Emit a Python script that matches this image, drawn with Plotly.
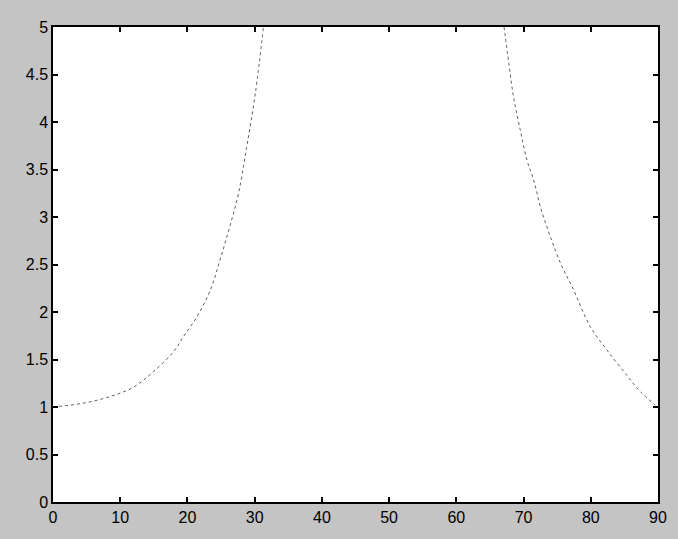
import plotly.graph_objects as go

# Left branch
x_left = [0, 4.5, 8.5, 12.0, 14.9, 17.9, 19.4, 21.4, 23.4, 24.85, 26.3, 27.6, 28.8, 30.1, 31.3]
y_left = [1.0, 1.04, 1.11, 1.21, 1.37, 1.58, 1.74, 1.95, 2.23, 2.55, 2.90, 3.25, 3.73, 4.30, 5.0]

# Right branch
x_right = [67.1, 67.8, 68.5, 69.5, 70.5, 71.5, 72.5, 74.0, 75.7, 77.2, 79.9, 82.4, 85.4, 87.4, 89.6]
y_right = [5.0, 4.62, 4.27, 3.92, 3.60, 3.39, 3.11, 2.79, 2.48, 2.27, 1.85, 1.60, 1.33, 1.16, 1.02]

x_ticks = list(range(0, 91, 10))
y_ticks = [0, 0.5, 1, 1.5, 2, 2.5, 3, 3.5, 4, 4.5, 5]
y_labels = ["0", "0.5", "1", "1.5", "2", "2.5", "3", "3.5", "4", "4.5", "5"]

line_style = dict(color="#5e5e5e", width=1, dash="dot", shape="spline")

fig = go.Figure()
fig.add_trace(go.Scatter(x=x_left, y=y_left, mode="lines", line=line_style, showlegend=False))
fig.add_trace(go.Scatter(x=x_right, y=y_right, mode="lines", line=line_style, showlegend=False))

axis_common = dict(
    showgrid=False, zeroline=False, showline=True, linecolor="black", linewidth=1.5,
    mirror="ticks", ticks="inside", ticklen=5, tickcolor="black", tickwidth=1.5,
    tickfont=dict(family="Liberation Sans", size=16, color="black"),
)

fig.update_xaxes(range=[0, 90], tickmode="array", tickvals=x_ticks,
                 ticktext=[str(v) for v in x_ticks], **axis_common)
fig.update_yaxes(range=[0, 5], tickmode="array", tickvals=y_ticks,
                 ticktext=y_labels, **axis_common)

fig.update_layout(
    width=678, height=539,
    margin=dict(l=53, r=20, t=27, b=37),
    paper_bgcolor="#c4c4c4",
    plot_bgcolor="white",
)

fig.write_html("out.html")
